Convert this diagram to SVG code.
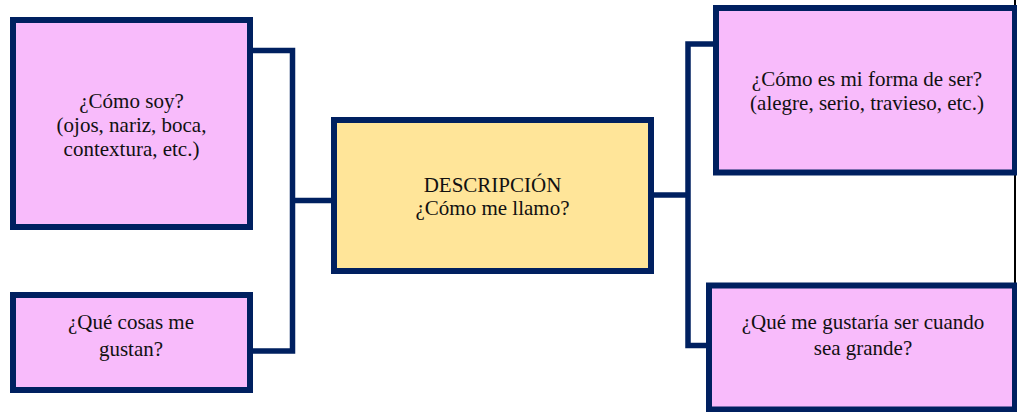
<svg xmlns="http://www.w3.org/2000/svg" width="1017" height="412" viewBox="0 0 1017 412">
<style>
.box{stroke:#002060;stroke-width:6}
.pink{fill:#F8BBFB}
.yellow{fill:#FFE599}
.conn{fill:none;stroke:#002060;stroke-width:5.5;stroke-linejoin:miter}
text{font-family:"Liberation Serif","Times New Roman",serif;font-size:21px;fill:#111;text-anchor:middle}
</style>
<rect width="1017" height="412" fill="#fff"/>
<line x1="1015" y1="0" x2="1015" y2="283" stroke="#000" stroke-width="2"/>
<g id="connectors">
<path class="conn" d="M253,50.5 H292.5 V351 H253"/>
<path class="conn" d="M292.5,200.5 H334"/>
<path class="conn" d="M654,195 H688"/>
<path class="conn" d="M721,44 H688 V345.5 H721"/>
</g>
<g id="como-soy">
<rect class="box pink" x="13" y="20" width="237" height="207"/>
<text x="131.5" y="108">¿Cómo soy?</text>
<text x="131.5" y="132">(ojos, nariz, boca,</text>
<text x="131.5" y="155.5">contextura, etc.)</text>
</g>
<g id="que-cosas">
<rect class="box pink" x="13" y="295" width="237" height="95"/>
<text x="131" y="329">¿Qué cosas me</text>
<text x="131" y="356">gustan?</text>
</g>
<g id="descripcion">
<rect class="box yellow" x="334" y="120" width="317" height="151"/>
<text x="492.5" y="192">DESCRIPCIÓN</text>
<text x="492.5" y="215">¿Cómo me llamo?</text>
</g>
<g id="forma-de-ser">
<rect class="box pink" x="716" y="8" width="299" height="164.5"/>
<text x="867" y="86">¿Cómo es mi forma de ser?</text>
<text x="867" y="110">(alegre, serio, travieso, etc.)</text>
</g>
<g id="cuando-grande">
<rect class="box pink" x="709" y="285.5" width="306" height="124"/>
<text x="863" y="328.5">¿Qué me gustaría ser cuando</text>
<text x="863" y="355">sea grande?</text>
</g>
</svg>
